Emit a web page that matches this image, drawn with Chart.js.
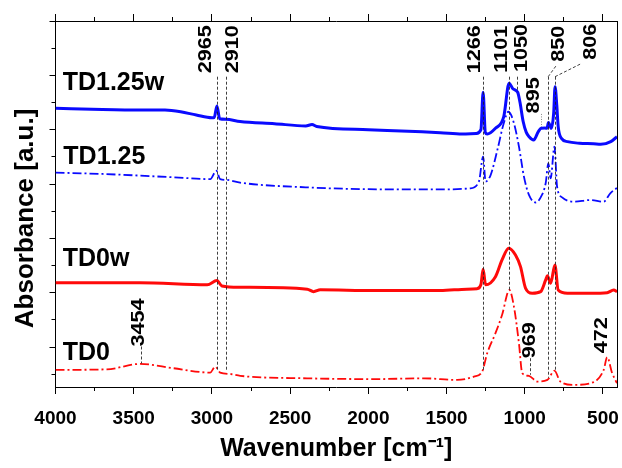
<!DOCTYPE html>
<html>
<head>
<meta charset="utf-8">
<script src="https://cdn.jsdelivr.net/npm/chart.js@4.4.0/dist/chart.umd.min.js"></script>
<style>
  html, body { margin: 0; padding: 0; background: #fff; }
</style>
</head>
<body>
<canvas id="ftir" width="622" height="468"></canvas>
<script>
// Espectros FTIR (número de onda em cm-1, absorbância em unidades arbitrárias)
const td125wWn  = [4000, 3700, 3450, 3300, 3200, 3100, 3000, 2985, 2968, 2950, 2910, 2820, 2600, 2400, 2360, 2330, 2000, 1700, 1540, 1400, 1310, 1280, 1266, 1252, 1240, 1187, 1134, 1100, 1075, 1045, 1030, 1010, 990, 972, 943, 913, 895, 870, 858, 848, 830, 815, 806, 795, 786, 765, 727, 650, 560, 514, 450, 410];
const td125wAbs = [8.79, 8.74, 8.72, 8.72, 8.66, 8.54, 8.44, 8.45, 8.87, 8.40, 8.38, 8.30, 8.22, 8.14, 8.19, 8.12, 8.00, 7.93, 7.89, 7.84, 7.86, 8.00, 9.38, 7.90, 7.84, 8.05, 8.48, 9.71, 9.50, 9.38, 9.00, 8.30, 7.90, 7.74, 7.62, 7.93, 8.05, 8.06, 8.05, 8.26, 8.05, 8.60, 9.58, 8.90, 8.11, 7.68, 7.56, 7.50, 7.48, 7.46, 7.56, 7.74];

const td125Wn  = [4000, 3700, 3250, 3010, 2972, 2947, 2904, 2820, 2400, 2000, 1540, 1350, 1293, 1266, 1250, 1218, 1175, 1134, 1104, 1069, 1037, 1005, 973, 930, 898, 866, 849, 834, 810, 793, 761, 687, 580, 495, 453, 410];
const td125Abs = [6.42, 6.37, 6.25, 6.18, 6.49, 6.18, 6.15, 6.05, 5.88, 5.81, 5.80, 5.84, 6.09, 7.01, 6.09, 6.33, 7.25, 8.24, 8.66, 8.24, 7.38, 6.27, 5.60, 5.32, 5.51, 6.03, 6.76, 6.21, 7.38, 5.90, 5.51, 5.35, 5.41, 5.35, 5.66, 5.86];

const td0wWn  = [4000, 3460, 3030, 2968, 2936, 2820, 2390, 2350, 2307, 1966, 1540, 1370, 1304, 1280, 1266, 1250, 1187, 1145, 1102, 1059, 1027, 995, 952, 898, 866, 855, 834, 807, 786, 727, 580, 473, 431, 410];
const td0wAbs = [2.37, 2.37, 2.29, 2.45, 2.25, 2.20, 2.13, 2.04, 2.11, 2.08, 2.08, 2.13, 2.15, 2.30, 2.86, 2.29, 2.59, 3.21, 3.64, 3.39, 2.96, 2.17, 1.98, 2.04, 2.47, 2.62, 2.35, 3.02, 2.10, 1.98, 1.98, 2.00, 2.10, 2.04];

const td0Wn  = [4000, 3672, 3459, 3245, 3011, 2979, 2947, 2883, 2819, 2392, 1966, 1646, 1432, 1325, 1272, 1240, 1187, 1145, 1098, 1069, 1037, 1016, 973, 920, 855, 810, 772, 687, 580, 495, 473, 441, 410];
const td0Abs = [-0.84, -0.82, -0.62, -0.78, -0.94, -0.72, -0.94, -0.99, -1.06, -1.15, -1.18, -1.15, -1.21, -1.09, -0.90, -0.23, 0.51, 1.18, 2.10, 1.49, 0.14, -0.96, -1.06, -1.27, -1.21, -0.87, -1.27, -1.39, -1.33, -0.84, -0.37, -0.96, -1.33];

const seriesNames = ['TD1.25w', 'TD1.25', 'TD0w', 'TD0'];

// Eixos e marcas
const X_MIN = 410, X_MAX = 4000;
const Y_MIN = -1.47, Y_MAX = 12;
const xMajorTicks = [4000, 3500, 3000, 2500, 2000, 1500, 1000, 500];
const xMinorTicks = [3750, 3250, 2750, 2250, 1750, 1250, 750];
const yMajorTicks = [0, 2, 4, 6, 8, 10, 12];
const yMinorTicks = [-1, 1, 3, 5, 7, 9, 11];

// Linhas tracejadas das bandas (número de onda, início e fim em absorbância)
const markWn  = [2965, 2910, 1266, 1101, 1050, 850, 806, 3454, 969];
const markTop = [9.95, 9.95, 9.95, 9.95, 9.95, 9.95, 9.95, 0.02, -0.41];
const markBot = [-0.84, -0.90, -0.90, 2.10, 9.39, -1.13, -0.90, -0.60, -1.02];

// Rótulos das bandas (texto vertical, ancorado na base)
const peakText = ['2965', '2910', '1266', '1101', '1050', '850', '806', '895', '3454', '969', '472'];
const peakWn   = [3038, 2863, 1318, 1147, 1020, 781, 578, 941, 3466, 967, 508];
const peakAbs  = [10.08, 10.08, 10.08, 10.10, 10.12, 10.50, 10.57, 8.60, 0.02, -0.41, -0.23];

// Posição dos nomes das amostras
const nameWn  = [3954, 3950, 3954, 3954];
const nameAbs = [9.71, 7.00, 3.24, -0.21];

const FONT = "'Liberation Sans', Arial, sans-serif";
const BLUE = '#0a0aff';
const RED = '#ff0a0a';

function toPoints(wn, abs) {
    return wn.map((w, i) => ({ x: w, y: abs[i] }));
}

function tickGrid(len) {
    return { drawOnChartArea: false, drawTicks: true, tickLength: len, tickColor: '#000', tickWidth: 1 };
}

function fixedTicks(list) {
    return axis => { axis.ticks = list.map(v => ({ value: v })); };
}

// tamanho fixo dos eixos, sem folga extra para os rótulos
function fixHeight(h) {
    return s => { s.height = h; s.paddingLeft = 0; s.paddingRight = 0; };
}

const annotations = {
    id: 'annotations',
    afterDatasetsDraw(chart) {
        const ctx = chart.ctx;
        const xs = chart.scales.x;
        const ys = chart.scales.y;
        const px = v => xs.getPixelForValue(v);
        const py = v => ys.getPixelForValue(v);

        ctx.save();
        // linhas tracejadas
        ctx.strokeStyle = 'rgba(30,30,30,0.85)';
        ctx.lineWidth = 1;
        ctx.setLineDash([3, 2]);
        markWn.forEach((w, i) => {
            ctx.beginPath();
            ctx.moveTo(Math.round(px(w)) + 0.5, py(markTop[i]));
            ctx.lineTo(Math.round(px(w)) + 0.5, py(markBot[i]));
            ctx.stroke();
        });
        // guias inclinadas de 850 e 806
        ctx.beginPath();
        ctx.moveTo(px(850), py(9.95));
        ctx.lineTo(px(796), py(10.38));
        ctx.moveTo(px(806), py(9.95));
        ctx.lineTo(px(636), py(10.44));
        ctx.stroke();
        // linha pontilhada de 895
        ctx.strokeStyle = '#888';
        ctx.setLineDash([1, 1.5]);
        ctx.beginPath();
        ctx.moveTo(Math.round(px(895)) + 0.5, py(8.58));
        ctx.lineTo(Math.round(px(895)) + 0.5, py(8.10));
        ctx.stroke();
        ctx.setLineDash([]);

        // rótulos das bandas
        ctx.fillStyle = '#000';
        ctx.font = 'bold 18px ' + FONT;
        ctx.textAlign = 'left';
        ctx.textBaseline = 'middle';
        peakText.forEach((t, i) => {
            ctx.save();
            ctx.translate(px(peakWn[i]), py(peakAbs[i]));
            ctx.rotate(-Math.PI / 2);
            ctx.scale(1.2, 1);
            ctx.fillText(t, 0, 0);
            ctx.restore();
        });

        // nomes das amostras
        ctx.font = 'bold 25px ' + FONT;
        seriesNames.forEach((n, i) => {
            ctx.fillText(n, px(nameWn[i]), py(nameAbs[i]));
        });
        ctx.restore();
    }
};

new Chart(document.getElementById('ftir'), {
    type: 'line',
    data: {
        datasets: [
            { label: seriesNames[0], data: toPoints(td125wWn, td125wAbs), borderColor: BLUE, borderWidth: 3 },
            { label: seriesNames[1], data: toPoints(td125Wn, td125Abs), borderColor: BLUE, borderWidth: 1.8, borderDash: [9, 3, 2, 3] },
            { label: seriesNames[2], data: toPoints(td0wWn, td0wAbs), borderColor: RED, borderWidth: 3 },
            { label: seriesNames[3], data: toPoints(td0Wn, td0Abs), borderColor: RED, borderWidth: 1.8, borderDash: [9, 3, 2, 3] }
        ]
    },
    options: {
        responsive: false,
        animation: false,
        parsing: false,
        elements: {
            point: { radius: 0 },
            line: { cubicInterpolationMode: 'monotone', borderJoinStyle: 'round', fill: false }
        },
        plugins: {
            legend: { display: false },
            tooltip: { enabled: false }
        },
        scales: {
            x: {
                type: 'linear', position: 'bottom', reverse: true, min: X_MIN, max: X_MAX, weight: 1,
                afterBuildTicks: fixedTicks(xMajorTicks),
                ticks: { color: '#000', maxRotation: 0, autoSkip: false, padding: 13,
                         callback: v => String(v),
                         font: { family: FONT, size: 19, weight: 'bold' } },
                grid: tickGrid(7),
                border: { color: '#000', width: 1 },
                title: { display: true, text: 'Wavenumber [cm\u207B\u00B9]', color: '#000',
                         font: { family: FONT, size: 25, weight: 'bold' }, padding: { top: 0, bottom: 4 } },
                afterFit: fixHeight(81)
            },
            xMinor: {
                type: 'linear', position: 'bottom', reverse: true, min: X_MIN, max: X_MAX, weight: 0,
                afterBuildTicks: fixedTicks(xMinorTicks),
                ticks: { display: false },
                grid: tickGrid(4),
                border: { display: false },
                afterFit: fixHeight(0)
            },
            xTop: {
                type: 'linear', position: 'top', reverse: true, min: X_MIN, max: X_MAX, weight: 1,
                afterBuildTicks: fixedTicks(xMajorTicks),
                ticks: { display: false },
                grid: tickGrid(7),
                border: { color: '#000', width: 1 },
                afterFit: fixHeight(21)
            },
            xTopMinor: {
                type: 'linear', position: 'top', reverse: true, min: X_MIN, max: X_MAX, weight: 0,
                afterBuildTicks: fixedTicks(xMinorTicks),
                ticks: { display: false },
                grid: tickGrid(4),
                border: { display: false },
                afterFit: fixHeight(0)
            },
            y: {
                type: 'linear', position: 'left', min: Y_MIN, max: Y_MAX, weight: 1,
                afterBuildTicks: fixedTicks(yMajorTicks),
                ticks: { display: false },
                grid: tickGrid(6),
                border: { color: '#000', width: 1 },
                title: { display: true, text: 'Absorbance [a.u.]    ', color: '#000',
                         font: { family: FONT, size: 26, weight: 'bold' }, padding: { top: 10, bottom: 0 } },
                afterFit: s => { s.width = 55.5; }
            },
            yMinor: {
                type: 'linear', position: 'left', min: Y_MIN, max: Y_MAX, weight: 0,
                afterBuildTicks: fixedTicks(yMinorTicks),
                ticks: { display: false },
                grid: tickGrid(4),
                border: { display: false },
                afterFit: s => { s.width = 0; }
            },
            yRight: {
                type: 'linear', position: 'right', min: Y_MIN, max: Y_MAX,
                ticks: { display: false },
                grid: { display: false },
                border: { color: '#000', width: 1 },
                afterFit: s => { s.width = 5; }
            }
        }
    },
    plugins: [annotations]
});
</script>
</body>
</html>
